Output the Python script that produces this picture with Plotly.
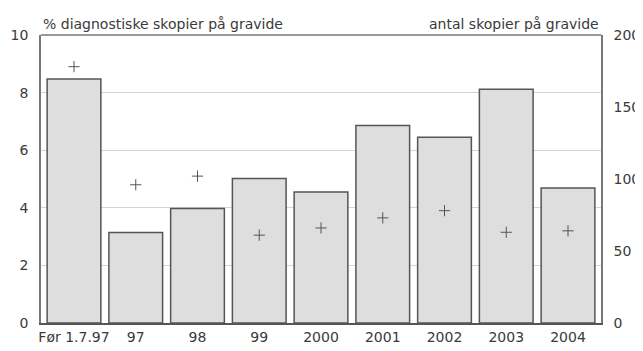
import plotly.graph_objects as go

categories = ["Før 1.7.97", "97", "98", "99", "2000", "2001", "2002", "2003", "2004"]
pct_diagnostic = [8.47, 3.14, 3.98, 5.02, 4.55, 6.86, 6.45, 8.12, 4.69]
count_scopies = [178, 96, 102, 61, 66, 73, 78, 63, 64]

left_title = "% diagnostiske skopier på gravide"
right_title = "antal skopier på gravide"

font = dict(family="DejaVu Sans, Verdana, sans-serif", size=14, color="#3a3a3a")

# page body has an 8px margin, so the figure is sized to the visible area
fig = go.Figure()
fig.add_trace(go.Bar(
    x=categories, y=pct_diagnostic, yaxis="y",
    marker=dict(color="#dedede", line=dict(color="#555555", width=1.5)),
    showlegend=False,
))
fig.add_trace(go.Scatter(
    x=categories, y=count_scopies, yaxis="y2", mode="markers",
    marker=dict(symbol="cross-thin", size=8, line=dict(color="#555555", width=1)),
    showlegend=False,
))

fig.update_layout(
    width=635, height=343,
    margin=dict(l=33, r=42, t=27, b=28, autoexpand=False),
    paper_bgcolor="white", plot_bgcolor="white",
    font=font,
    bargap=0.13,
    xaxis=dict(
        showline=True, linecolor="#555555", linewidth=2, automargin=False,
        ticks="", tickfont=font,
    ),
    yaxis=dict(
        range=[0, 10], dtick=2, showgrid=True, gridcolor="#d4d4d4", gridwidth=1,
        showline=True, linecolor="#777777", linewidth=1.5, automargin=False,
        ticks="", ticklabelstandoff=8, zeroline=False, tickfont=font,
    ),
    yaxis2=dict(
        range=[0, 200], dtick=50, overlaying="y", side="right", showgrid=False,
        showline=True, linecolor="#777777", linewidth=1.5, automargin=False,
        ticks="", ticklabelstandoff=8, zeroline=False, tickfont=font,
    ),
    shapes=[dict(type="line", xref="paper", yref="paper", x0=0, x1=1, y0=1, y1=1,
                 line=dict(color="#777777", width=1.5))],
    annotations=[
        dict(text=left_title, xref="paper", yref="paper", x=0, y=1, xanchor="left",
             yanchor="bottom", yshift=1, showarrow=False, font=dict(size=14)),
        dict(text=right_title, xref="paper", yref="paper", x=1, y=1, xanchor="right",
             yanchor="bottom", yshift=1, showarrow=False, font=dict(size=14)),
    ],
)

fig.write_html("out.html")
